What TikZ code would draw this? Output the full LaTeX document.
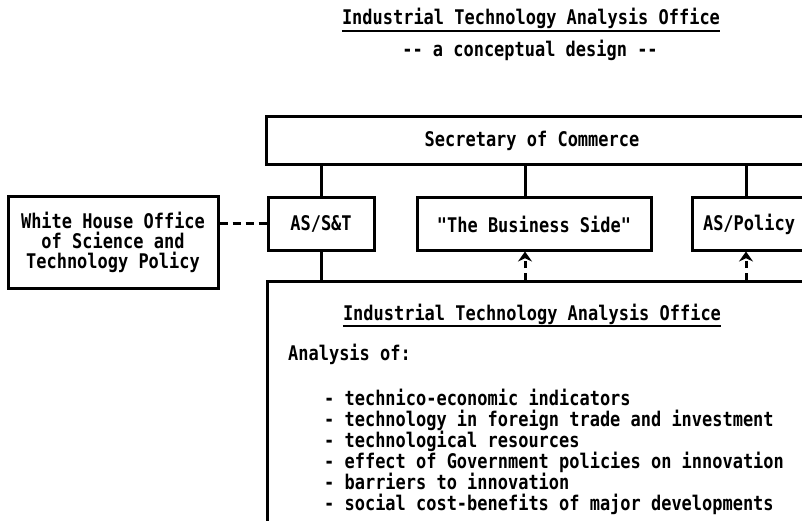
\documentclass[tikz,border=0pt]{standalone}
\usepackage{fontspec}
\newfontfamily\typer{DejaVu Sans Mono}[FakeStretch=0.84]
\usetikzlibrary{arrows.meta}
% two hyphens that must stay two hyphens
\newcommand\hyph{-\kern0pt-}
\begin{document}
\begin{tikzpicture}[x=1pt,y=-1pt,
  every node/.style={font=\typer\bfseries\fontsize{20.2}{21}\selectfont},
  orgbox/.style={draw, line width=3pt, inner sep=0pt},
  txt/.style={inner sep=0pt},
  link/.style={line width=3pt},
  dashlink/.style={line width=3pt, dash pattern=on 8pt off 5pt},
  feed/.style={line width=3pt, dash pattern=on 7pt off 5pt,
    -{Stealth[length=10pt,width=14pt]}},
  uline/.style={line width=2pt}]
\useasboundingbox (0,0) rectangle (802,521);
\clip (0,0) rectangle (802,521);

% heading
\node[txt, anchor=base] (title) at (531,25) {Industrial Technology Analysis Office};
\draw[uline] ([yshift=-6pt]title.base west) -- ([yshift=-6pt]title.base east);
\node[txt, anchor=base] (sub) at (530,57) {\hyph{} a conceptual design \hyph};

% Secretary of Commerce (runs off the right edge)
\node[orgbox, minimum width=560pt, minimum height=48pt] (sec) at (546,141) {};
\node[txt] (sectxt) at (532,141) {Secretary of Commerce};

% second level
\node[orgbox, minimum width=106pt, minimum height=52pt] (ast) at (321,224) {AS/S\&T};
\node[orgbox, minimum width=234pt, minimum height=52pt] (bus) at (534,224) {"The Business Side"};
\node[orgbox, minimum width=114pt, minimum height=52pt] (asp) at (749,224) {AS/Policy};

% White House office
\node[orgbox, minimum width=210pt, minimum height=91pt, align=center,
  font=\typer\bfseries\fontsize{20.2}{20}\selectfont] (wh) at (113,242.5)
  {White House Office\\of Science and\\Technology Policy};

% analysis office (runs off the right and bottom edges)
\node[orgbox, minimum width=600pt, minimum height=300pt, anchor=north west] (itao) at (266,280) {};
\node[txt, anchor=base] (ititle) at (532,320) {Industrial Technology Analysis Office};
\draw[uline] ([yshift=-6pt]ititle.base west) -- ([yshift=-6pt]ititle.base east);
\node[txt, anchor=base west] (anal) at (288,360) {Analysis of:};
\node[txt, anchor=north west, align=left] (items) at (324,389)
  {- technico-economic indicators\\
   - technology in foreign trade and investment\\
   - technological resources\\
   - effect of Government policies on innovation\\
   - barriers to innovation\\
   - social cost-benefits of major developments};

% connectors
\draw[link] (sec.south -| ast.north) -- (ast.north);
\draw[link] ([xshift=-9pt]bus.north |- sec.south) -- ([xshift=-9pt]bus.north);
\draw[link] ([xshift=-3pt]asp.north |- sec.south) -- ([xshift=-3pt]asp.north);
\draw[link] (ast.south) -- (ast.south |- itao.north);
\draw[dashlink] (ast.west -| wh.east) -- (ast.west);
\draw[feed] ([xshift=-9pt]bus.south |- itao.north) -- ([xshift=-9pt]bus.south);
\draw[feed] ([xshift=-3pt]asp.south |- itao.north) -- ([xshift=-3pt]asp.south);
\end{tikzpicture}
\end{document}
